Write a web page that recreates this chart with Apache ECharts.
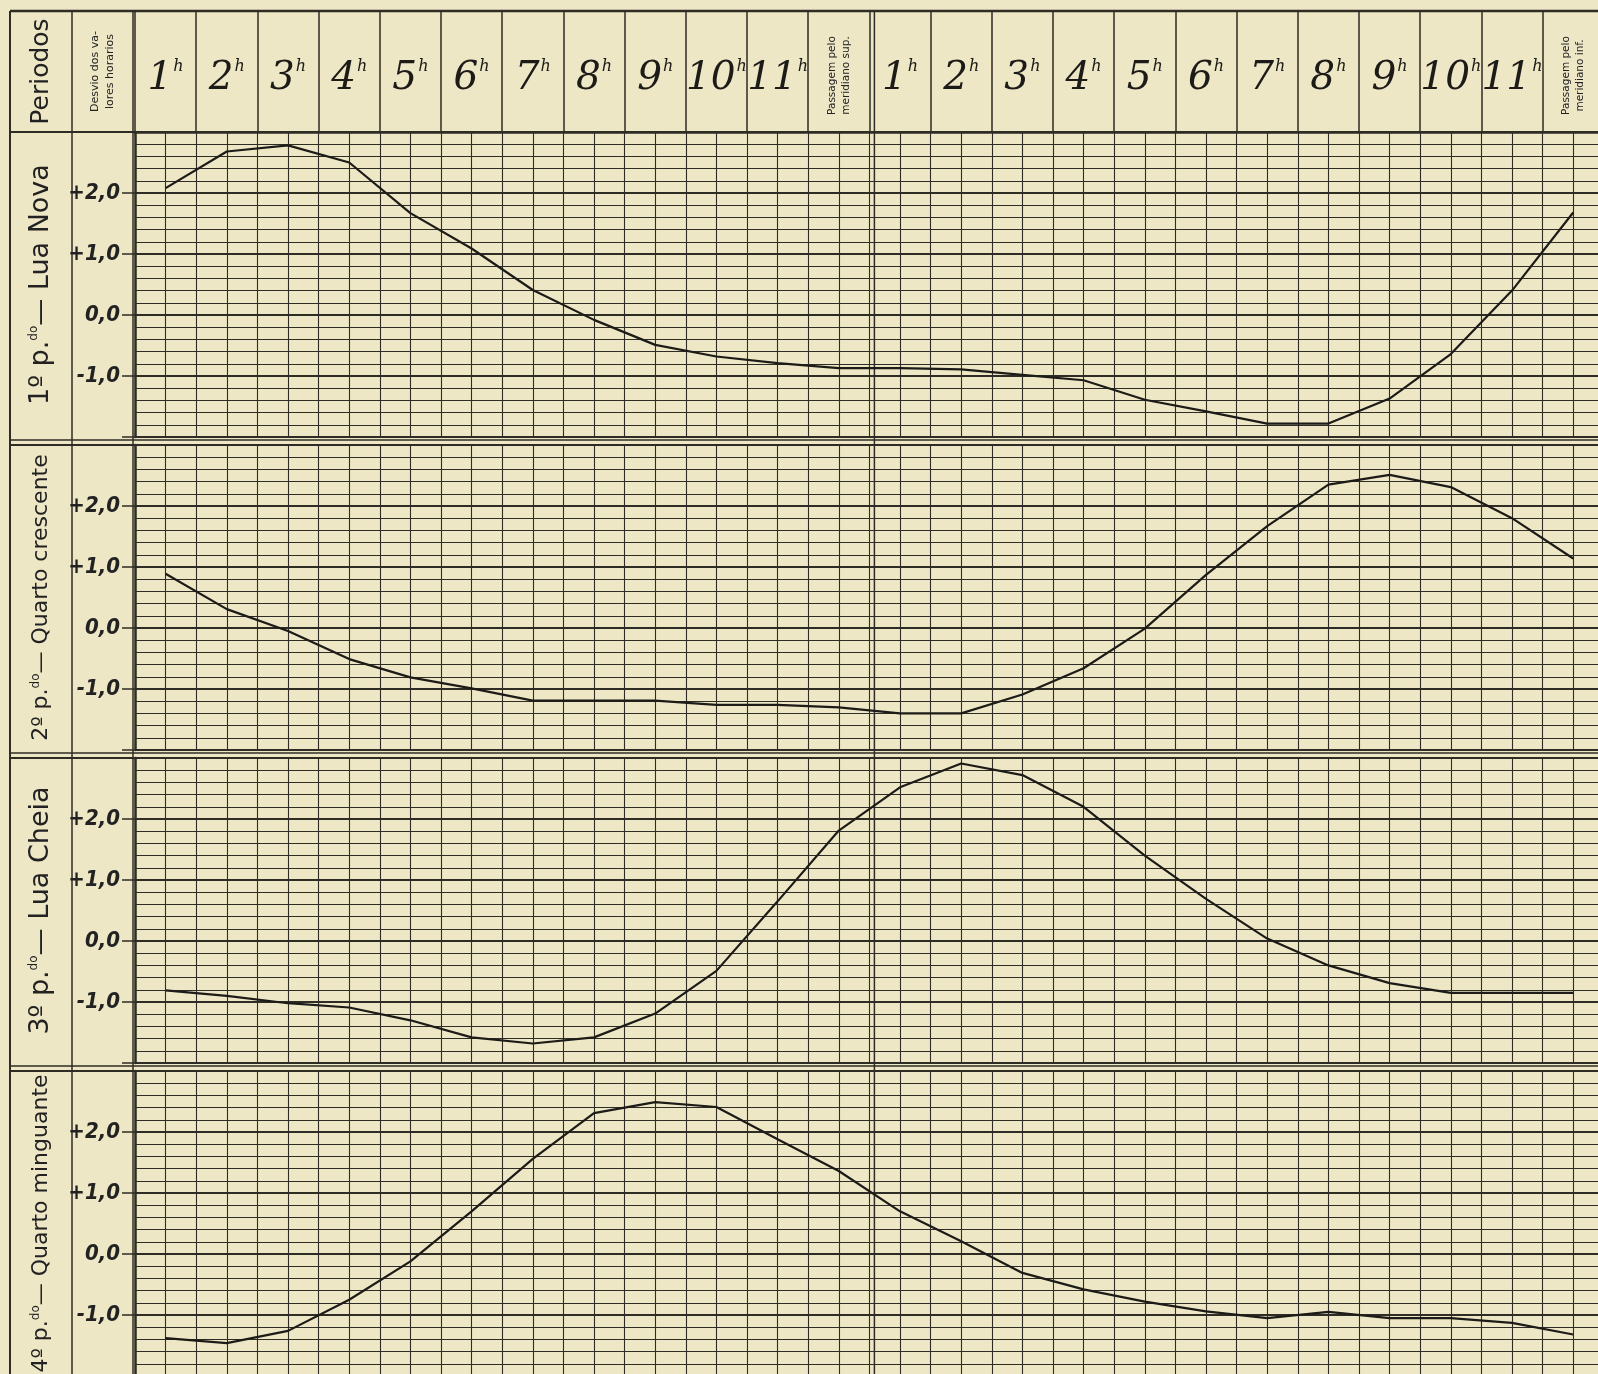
<!DOCTYPE html>
<html>
<head>
<meta charset="utf-8">
<script src="https://cdn.jsdelivr.net/npm/echarts@6/dist/echarts.min.js"></script>
<style>
html, body { margin: 0; padding: 0; background: #eee7c6; }
#chart { width: 1598px; height: 1374px; }
</style>
</head>
<body>
<div id="chart"></div>
<script>
// colunas: 11 horas + passagem sup., 11 horas + passagem inf.
const hourLabels = ['1', '2', '3', '4', '5', '6', '7', '8', '9', '10', '11', '',
                    '1', '2', '3', '4', '5', '6', '7', '8', '9', '10', '11', '']
const passLabels = ['Passagem pelo\nmeridiano sup.', 'Passagem pelo\nmeridiano inf.']
const passColumns = [11, 23]
const periodLabels = ['1º p.|do|— Lua Nova', '2º p.|do|— Quarto crescente',
                      '3º p.|do|— Lua Cheia', '4º p.|do|— Quarto minguante']
const yTickValues = [2, 1, 0, -1]
const yTickLabels = ['+2,0', '+1,0', '0,0', '-1,0']

// desvio dos valores horarios
const luaNova = [2.08, 2.68, 2.78, 2.50, 1.67, 1.09, 0.41, -0.08, -0.49, -0.68, -0.79, -0.87,
                 -0.87, -0.89, -0.98, -1.07, -1.39, -1.58, -1.78, -1.78, -1.37, -0.64, 0.40, 1.68]
const quartoCrescente = [0.89, 0.31, -0.05, -0.51, -0.81, -0.99, -1.19, -1.19, -1.19, -1.26, -1.26, -1.30,
                         -1.40, -1.40, -1.09, -0.66, -0.01, 0.87, 1.67, 2.35, 2.51, 2.31, 1.80, 1.14]
const luaCheia = [-0.81, -0.90, -1.02, -1.09, -1.30, -1.58, -1.68, -1.58, -1.19, -0.49, 0.65, 1.81,
                  2.52, 2.91, 2.72, 2.20, 1.40, 0.69, 0.04, -0.40, -0.69, -0.85, -0.85, -0.85]
const quartoMinguante = [-1.38, -1.46, -1.26, -0.75, -0.12, 0.70, 1.56, 2.31, 2.49, 2.41, 1.88, 1.36,
                         0.70, 0.21, -0.31, -0.58, -0.78, -0.94, -1.05, -0.95, -1.05, -1.05, -1.13, -1.32]
const panels = [luaNova, quartoCrescente, luaCheia, quartoMinguante]

let ink = '#2e2c25'
let paper = '#eee7c6'
let plotLeft = 135
let colW = 61.2
let firstTop = 132
let panelStep = 313
let panelH = 305
let frameTop = 11
let frameLeft = 10
let col1 = 72
let col2 = 133

const chart = echarts.init(document.getElementById('chart'))

let grids = []
let xAxes = []
let yAxes = []
let series = []
panels.forEach((values, i) => {
  grids.push({
    left: plotLeft,
    top: firstTop + panelStep * i,
    width: colW * 24,
    height: panelH,
    containLabel: false,
    outerBoundsMode: 'none'
  })
  xAxes.push({
    type: 'value',
    gridIndex: i,
    min: 0,
    max: 24,
    interval: 1,
    axisLine: { show: true, lineStyle: { color: ink, width: 1.5 } },
    axisTick: { show: false },
    axisLabel: { show: false },
    splitLine: { show: true, lineStyle: { color: ink, width: 1.1 } },
    minorTick: { show: false, splitNumber: 2 },
    minorSplitLine: { show: true, lineStyle: { color: ink, width: 1.1 } }
  })
  yAxes.push({
    type: 'value',
    gridIndex: i,
    min: -2,
    max: 3,
    interval: 1,
    axisLine: { show: true, lineStyle: { color: ink, width: 2.5 } },
    axisTick: { show: true, length: 13, lineStyle: { color: ink, width: 1.5 } },
    axisLabel: {
      margin: 15,
      color: '#222',
      fontFamily: 'DejaVu Sans Condensed',
      fontStyle: 'italic',
      fontWeight: 'bold',
      fontSize: 22,
      formatter: function (v) {
        let k = yTickValues.indexOf(Math.round(v))
        return k < 0 ? '' : yTickLabels[k]
      }
    },
    splitLine: { show: true, lineStyle: { color: ink, width: 1.8 } },
    minorTick: { show: false, splitNumber: 5 },
    minorSplitLine: { show: true, lineStyle: { color: ink, width: 1 } }
  })
  series.push({
    type: 'line',
    xAxisIndex: i,
    yAxisIndex: i,
    silent: true,
    symbol: 'none',
    lineStyle: { color: '#1c1b17', width: 2.2 },
    data: values.map((v, k) => [k + 0.5, v])
  })
})

// cabecalho: horas
xAxes.push({
  type: 'category',
  gridIndex: 0,
  position: 'top',
  data: hourLabels,
  boundaryGap: true,
  axisLine: { show: true, lineStyle: { color: ink, width: 2.5 } },
  axisTick: { show: true, length: firstTop - frameTop, interval: 0, lineStyle: { color: ink, width: 1.5 } },
  axisLabel: {
    interval: 0,
    margin: 34,
    formatter: function (v) {
      return v ? '{n|' + v + '}{h|h}' : ''
    },
    rich: {
      n: { fontFamily: 'DejaVu Serif', fontStyle: 'italic', fontSize: 39, color: '#1c1b17', verticalAlign: 'bottom' },
      h: { fontFamily: 'DejaVu Serif', fontStyle: 'italic', fontSize: 16, color: '#1c1b17', verticalAlign: 'top', padding: [0, 0, 0, 1] }
    }
  }
})

// moldura e colunas da esquerda
let W = 1598, H = 1374
let graphic = []
let line = (x1, y1, x2, y2, w) => ({
  type: 'line', silent: true,
  shape: { x1: x1, y1: y1, x2: x2, y2: y2 },
  style: { stroke: ink, lineWidth: w || 1.5 }
})
graphic.push(line(frameLeft, frameTop, W, frameTop, 2.5))
graphic.push(line(frameLeft, frameTop, frameLeft, H, 2))
graphic.push(line(col1, frameTop, col1, H, 1.5))
graphic.push(line(col2, frameTop, col2, H, 1.5))
graphic.push(line(frameLeft, firstTop, plotLeft, firstTop, 2))
let mid = plotLeft + colW * 12
graphic.push(line(mid + 5, frameTop, mid + 5, H, 1.5))
for (let i = 0; i < 3; i++) {
  let bottom = firstTop + panelStep * i + panelH
  graphic.push(line(frameLeft, bottom + 3, W, bottom + 3, 1.5))
  graphic.push(line(frameLeft, bottom + 8, W, bottom + 8, 2))
}
let rotText = (x, y, text, font, lh) => ({
  type: 'text', silent: true, x: x, y: y, rotation: Math.PI / 2,
  style: { text: text, fill: '#222', font: font, lineHeight: lh, align: 'center', verticalAlign: 'middle' }
})
graphic.push(rotText((frameLeft + col1) / 2, (frameTop + firstTop) / 2, 'Periodos', '25px "DejaVu Sans"'))
graphic.push(rotText((col1 + col2) / 2, (frameTop + firstTop) / 2, 'Desvio dos va-\nlores horarios', '11px "DejaVu Sans"', 15))
passColumns.forEach((c, k) => {
  graphic.push(rotText(plotLeft + colW * (c + 0.5), (frameTop + firstTop) / 2 + 4, passLabels[k], '10.5px "DejaVu Sans"', 14))
})
periodLabels.forEach((lab, i) => {
  let parts = lab.split('|')
  let size = lab.length > 22 ? 22 : 27
  graphic.push({
    type: 'text', silent: true,
    x: (frameLeft + col1) / 2, y: firstTop + panelStep * i + panelH / 2, rotation: Math.PI / 2,
    style: {
      text: '{a|' + parts[0] + '}{s|' + parts[1] + '}{a|' + parts[2] + '}',
      align: 'center', verticalAlign: 'middle',
      rich: {
        a: { fontFamily: 'DejaVu Sans', fontSize: size, fill: '#222', verticalAlign: 'bottom' },
        s: { fontFamily: 'DejaVu Sans', fontSize: 12, fill: '#222', verticalAlign: 'top' }
      }
    }
  })
})

const option = {
  backgroundColor: paper,
  animation: false,
  grid: grids,
  xAxis: xAxes,
  yAxis: yAxes,
  series: series,
  graphic: graphic
}
chart.setOption(option)
</script>
</body>
</html>
